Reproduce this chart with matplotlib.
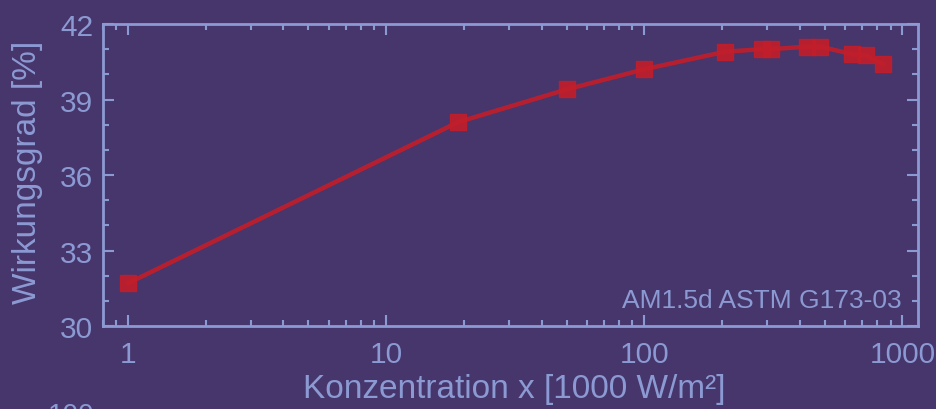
import matplotlib
matplotlib.use("Agg")
import matplotlib.pyplot as plt
from matplotlib.ticker import LogLocator, FixedLocator, NullFormatter, MultipleLocator

plt.rcParams['font.family'] = ['Liberation Sans', 'DejaVu Sans']

# Efficiency vs. concentration (AM1.5d spectrum)
concentration = [1, 19, 50, 100, 206, 287, 310, 428, 481, 640, 725, 844]
efficiency = [31.7, 38.1, 39.4, 40.2, 40.9, 41.0, 41.0, 41.1, 41.1, 40.8, 40.75, 40.4]

x_ticks = [1, 10, 100, 1000]
x_ticklabels = ["1", "10", "100", "1000"]
y_ticks = [30, 33, 36, 39, 42]

bg = "#46366b"
fg = "#8c9ad4"
red = "#c11e2a"

W, H = 936, 410
fig = plt.figure(figsize=(W / 100, H / 100), dpi=100, facecolor=bg)
ax = fig.add_axes([103 / W, 1 - 327 / H, (918 - 103) / W, (327 - 25) / H])
ax.set_facecolor(bg)

ax.plot(concentration, efficiency, color=red, lw=3.2, marker='s', ms=11.5,
        mfc=red, mec=red, alpha=0.92, solid_capstyle='round')

ax.set_xscale('log')
ax.set_xlim(0.8, 1150)
ax.set_ylim(30, 42)

ax.xaxis.set_major_locator(FixedLocator(x_ticks))
ax.set_xticklabels(x_ticklabels)
ax.xaxis.set_minor_locator(LogLocator(base=10, subs=range(2, 10)))
ax.xaxis.set_minor_formatter(NullFormatter())
ax.yaxis.set_major_locator(FixedLocator(y_ticks))
ax.yaxis.set_minor_locator(MultipleLocator(1))

for s in ax.spines.values():
    s.set_color(fg)
    s.set_linewidth(2)

ax.tick_params(which='both', direction='in', top=True, right=True, color=fg,
               labelcolor=fg, width=1.5)
ax.tick_params(which='major', length=8, labelsize=21.5)
ax.tick_params(axis='x', which='major', pad=10)
ax.tick_params(axis='y', which='major', pad=7)
ax.tick_params(which='minor', length=4)

fig.text(28 / W, 1 - 172 / H, "Wirkungsgrad [%]", color=fg, fontsize=24,
         rotation=90, ha='center', va='center')
fig.text(514 / W, 1 - 390 / H, "Konzentration x [1000 W/m²]", color=fg,
         fontsize=24, ha='center', va='center')

ax.text(0.980, 0.063, "AM1.5d ASTM G173-03", transform=ax.transAxes,
        ha='right', va='baseline', color=fg, fontsize=19)

# top of the next panel's label, cut off at the figure edge
fig.text(94 / W, 1 - 403 / H, "100", color=fg, fontsize=20, ha='right', va='top')

fig.savefig("out.png", dpi=100, facecolor=bg)
